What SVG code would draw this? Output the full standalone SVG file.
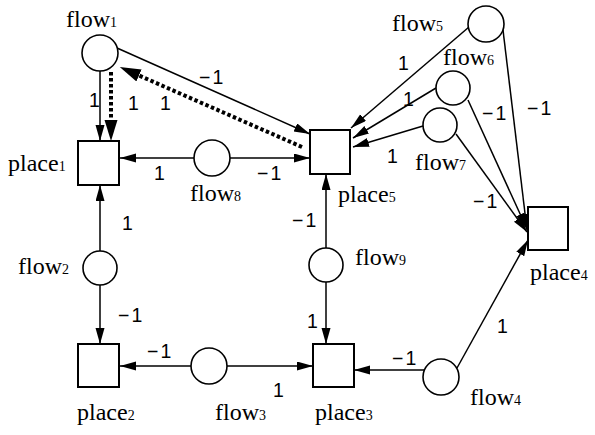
<svg xmlns="http://www.w3.org/2000/svg" width="595" height="435" viewBox="0 0 595 435">
<style>
.node{fill:#fff;stroke:#000;stroke-width:1.6}
.sq{fill:#fff;stroke:#000;stroke-width:2}
.lbl{font-family:"Liberation Serif","Times New Roman",serif;font-size:24px;fill:#000}
.sub{font-size:14px}
.w{font-family:"Liberation Sans",Arial,sans-serif;font-size:19.5px;fill:#000}
.m{letter-spacing:2px}
.e{stroke:#000;stroke-width:1.5;fill:none;marker-end:url(#ah)}
.d{stroke:#000;stroke-width:4;stroke-dasharray:3.5 2.5;fill:none;marker-end:url(#dh)}
</style>
<defs>
<marker id="ah" markerUnits="userSpaceOnUse" markerWidth="17" markerHeight="11" refX="16" refY="4.5" orient="auto">
<path d="M0,0 L16,4.5 L0,9 z" fill="#000"/>
</marker>
<marker id="dh" markerUnits="userSpaceOnUse" markerWidth="22" markerHeight="14" refX="0" refY="6.5" orient="auto">
<path d="M0,0 L21,6.5 L0,13 z" fill="#000"/>
</marker>
</defs>
<g id="connectors">
<line class="e" x1="100" y1="71" x2="100" y2="141"/>
<line class="d" x1="111" y1="72" x2="111" y2="120"/>
<line class="e" x1="117" y1="48" x2="310" y2="134"/>
<line class="d" x1="302" y1="147" x2="139" y2="75.5"/>
<line class="e" x1="194" y1="158" x2="120" y2="158"/>
<line class="e" x1="230" y1="158" x2="310" y2="158"/>
<line class="e" x1="100" y1="251" x2="100" y2="185"/>
<line class="e" x1="100" y1="285" x2="100" y2="344"/>
<line class="e" x1="191" y1="366" x2="120" y2="366"/>
<line class="e" x1="227" y1="366" x2="313" y2="366"/>
<line class="e" x1="326" y1="248" x2="326" y2="174"/>
<line class="e" x1="326" y1="282" x2="326" y2="344"/>
<line class="e" x1="424" y1="370" x2="354" y2="370"/>
<line class="e" x1="457" y1="368" x2="528" y2="240"/>
<line class="e" x1="469" y1="27" x2="351" y2="128"/>
<line class="e" x1="436" y1="88" x2="353" y2="138"/>
<line class="e" x1="423" y1="126" x2="353" y2="147"/>
<line class="e" x1="503" y1="30" x2="527" y2="230"/>
<line class="e" x1="468" y1="100" x2="527" y2="229"/>
<line class="e" x1="456" y1="134" x2="527" y2="232"/>
</g>
<g id="flow1"><circle class="node" cx="100" cy="53" r="18"/><text class="lbl" x="66" y="27">flow<tspan class="sub">1</tspan></text></g>
<g id="place1"><rect class="sq" x="78" y="141" width="41" height="44"/><text class="lbl" x="8" y="171">place<tspan class="sub">1</tspan></text></g>
<g id="flow8"><circle class="node" cx="212" cy="158" r="18"/><text class="lbl" x="190" y="201">flow<tspan class="sub">8</tspan></text></g>
<g id="place5"><rect class="sq" x="310" y="130" width="40" height="44"/><text class="lbl" x="338" y="202">place<tspan class="sub">5</tspan></text></g>
<g id="flow5"><circle class="node" cx="486" cy="24" r="18"/><text class="lbl" x="392" y="31">flow<tspan class="sub">5</tspan></text></g>
<g id="flow6"><circle class="node" cx="453" cy="88" r="17"/><text class="lbl" x="443" y="65">flow<tspan class="sub">6</tspan></text></g>
<g id="flow7"><circle class="node" cx="440" cy="125" r="17"/><text class="lbl" x="415" y="170">flow<tspan class="sub">7</tspan></text></g>
<g id="place4"><rect class="sq" x="528" y="207" width="40" height="43"/><text class="lbl" x="530" y="280">place<tspan class="sub">4</tspan></text></g>
<g id="flow9"><circle class="node" cx="326" cy="265" r="17"/><text class="lbl" x="355" y="265">flow<tspan class="sub">9</tspan></text></g>
<g id="flow2"><circle class="node" cx="100" cy="268" r="17"/><text class="lbl" x="18" y="274">flow<tspan class="sub">2</tspan></text></g>
<g id="place2"><rect class="sq" x="78" y="344" width="41" height="43"/><text class="lbl" x="77" y="420">place<tspan class="sub">2</tspan></text></g>
<g id="flow3"><circle class="node" cx="209" cy="366" r="18"/><text class="lbl" x="215" y="420">flow<tspan class="sub">3</tspan></text></g>
<g id="place3"><rect class="sq" x="313" y="344" width="41" height="43"/><text class="lbl" x="315" y="420">place<tspan class="sub">3</tspan></text></g>
<g id="flow4"><circle class="node" cx="441" cy="377" r="18"/><text class="lbl" x="470" y="405">flow<tspan class="sub">4</tspan></text></g>
<g id="weights">
<text class="w" x="89" y="107">1</text>
<text class="w" x="128" y="110">1</text>
<text class="w" x="160" y="110">1</text>
<text class="w m" x="199" y="84">−1</text>
<text class="w" x="154" y="180">1</text>
<text class="w m" x="257" y="180">−1</text>
<text class="w" x="387" y="163">1</text>
<text class="w" x="398" y="70">1</text>
<text class="w" x="403" y="106">1</text>
<text class="w m" x="482" y="120">−1</text>
<text class="w m" x="527" y="115">−1</text>
<text class="w m" x="473" y="208">−1</text>
<text class="w m" x="292" y="227">−1</text>
<text class="w" x="122" y="230">1</text>
<text class="w m" x="118" y="322">−1</text>
<text class="w" x="307" y="328">1</text>
<text class="w m" x="147" y="358">−1</text>
<text class="w" x="273" y="397">1</text>
<text class="w m" x="392" y="365">−1</text>
<text class="w" x="497" y="333">1</text>
</g>
</svg>
